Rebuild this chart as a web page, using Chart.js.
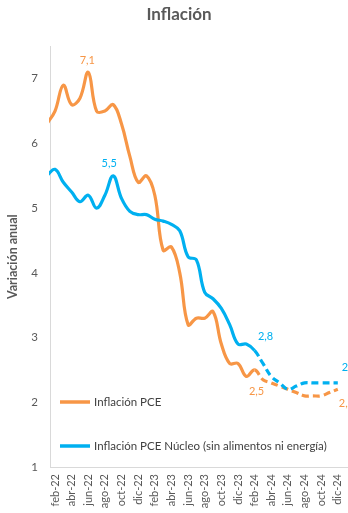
<!DOCTYPE html>
<html lang="es">
<head>
<meta charset="UTF-8">
<title>Inflación</title>
<script src="https://cdn.jsdelivr.net/npm/chart.js"></script>
<style>
  html, body { margin: 0; padding: 0; background: #fff; overflow: hidden; }
  #wrap { width: 358px; height: 513px; }
</style>
</head>
<body>
<div id="wrap"><canvas id="inflationChart" width="358" height="513"></canvas></div>
<script>
// datos mensuales (ene-22 .. dic-24), desde feb-24 es proyección
const months = ['ene-22','feb-22','mar-22','abr-22','may-22','jun-22','jul-22','ago-22','sep-22','oct-22','nov-22','dic-22',
                'ene-23','feb-23','mar-23','abr-23','may-23','jun-23','jul-23','ago-23','sep-23','oct-23','nov-23','dic-23',
                'ene-24','feb-24','mar-24','abr-24','may-24','jun-24','jul-24','ago-24','sep-24','oct-24','nov-24','dic-24'];
const pce     = [6.3, 6.5, 6.9, 6.6, 6.7, 7.1, 6.5, 6.5, 6.6, 6.3, 5.8, 5.4,
                 5.5, 5.2, 4.35, 4.4, 4.0, 3.2, 3.3, 3.3, 3.4, 2.9, 2.6, 2.6,
                 2.4, 2.5, 2.35, 2.3, 2.25, 2.2, 2.15, 2.1, 2.1, 2.1, 2.15, 2.2];
const pceCore = [5.5, 5.6, 5.4, 5.25, 5.1, 5.2, 5.0, 5.2, 5.5, 5.15, 4.95, 4.9,
                 4.9, 4.83, 4.8, 4.75, 4.65, 4.25, 4.2, 3.7, 3.6, 3.45, 3.2, 2.9,
                 2.9, 2.8, 2.6, 2.4, 2.3, 2.2, 2.25, 2.3, 2.3, 2.3, 2.3, 2.3];
const xTickLabels = ['feb-22','abr-22','jun-22','ago-22','oct-22','dic-22','feb-23','abr-23','jun-23',
                     'ago-23','oct-23','dic-23','feb-24','abr-24','jun-24','ago-24','oct-24','dic-24'];
const yTicks = [1, 2, 3, 4, 5, 6, 7];
const forecastFrom = months.indexOf('feb-24');

const ORANGE = '#F79646';
const BLUE = '#00B0F0';
const GREY = '#595959';
const FONT = 'Lato, "Noto Sans", sans-serif';

// etiquetas de valor junto a ciertos puntos
const valueLabels = [
    { ds: 0, month: 'jun-22', dx: -1, dy: -12, align: 'center' },
    { ds: 1, month: 'sep-22', dx: -4, dy: -12, align: 'center' },
    { ds: 1, month: 'feb-24', dx: 11, dy: -14, align: 'center' },
    { ds: 0, month: 'feb-24', dx: 2, dy: 22, align: 'center' },
    { ds: 1, month: 'dic-24', dx: 4, dy: -15, align: 'left' },
    { ds: 0, month: 'dic-24', dx: 1, dy: 14, align: 'left' }
];

const annotations = {
    id: 'annotations',
    afterDatasetsDraw(chart) {
        const ctx = chart.ctx;
        ctx.save();
        ctx.font = '11px ' + FONT;
        ctx.textBaseline = 'middle';
        valueLabels.forEach(l => {
            const ds = chart.data.datasets[l.ds];
            const idx = months.indexOf(l.month);
            const pt = chart.getDatasetMeta(l.ds).data[idx];
            ctx.fillStyle = ds.borderColor;
            ctx.textAlign = l.align;
            ctx.fillText(ds.data[idx].y.toFixed(1).replace('.', ','), pt.x + l.dx, pt.y + l.dy);
        });

        // leyenda dentro del área del gráfico
        const rows = [402, 446];
        ctx.font = '11.5px ' + FONT;
        ctx.textAlign = 'left';
        chart.data.datasets.forEach((ds, i) => {
            ctx.strokeStyle = ds.borderColor;
            ctx.lineWidth = 3.5;
            ctx.beginPath();
            ctx.moveTo(60, rows[i]);
            ctx.lineTo(90, rows[i]);
            ctx.stroke();
            ctx.fillStyle = '#404040';
            ctx.fillText(ds.label, 94, rows[i]);
        });
        ctx.restore();
    }
};

const dashed = c => c.p0DataIndex >= forecastFrom ? [7, 4] : undefined;

new Chart(document.getElementById('inflationChart'), {
    type: 'line',
    data: {
        datasets: [
            {
                label: 'Inflación PCE',
                data: pce.map((v, i) => ({ x: i, y: v })),
                borderColor: ORANGE,
                borderWidth: 3.2,
                pointRadius: 0,
                tension: 0.4,
                order: 1,
                clip: 1,
                segment: { borderDash: dashed }
            },
            {
                label: 'Inflación PCE Núcleo (sin alimentos ni energía)',
                data: pceCore.map((v, i) => ({ x: i, y: v })),
                borderColor: BLUE,
                borderWidth: 3.2,
                pointRadius: 0,
                tension: 0.4,
                order: 0,
                clip: 1,
                segment: { borderDash: dashed }
            }
        ]
    },
    options: {
        responsive: false,
        animation: false,
        layout: { padding: 0 },
        plugins: {
            legend: { display: false },
            tooltip: { enabled: false },
            title: {
                display: true,
                text: 'Inflación',
                color: GREY,
                font: { family: FONT, size: 17, weight: 'bold' },
                padding: { top: 4, bottom: 22 }
            }
        },
        scales: {
            x: {
                type: 'linear',
                min: 0.4,
                max: 37,
                afterBuildTicks: s => { s.ticks = xTickLabels.map(l => ({ value: months.indexOf(l) })); },
                afterFit: s => { s.height = 46; },
                grid: { display: false, drawTicks: false },
                border: { color: '#D9D9D9' },
                ticks: {
                    autoSkip: false,
                    minRotation: 90,
                    maxRotation: 90,
                    padding: 7,
                    color: GREY,
                    font: { family: FONT, size: 11 },
                    callback: v => months[v]
                }
            },
            y: {
                min: 1,
                max: 7.5,
                afterBuildTicks: s => { s.ticks = yTicks.map(v => ({ value: v })); },
                afterFit: s => { s.width = 50; },
                grid: { display: false, drawTicks: false },
                border: { color: '#D9D9D9' },
                ticks: {
                    padding: 12,
                    color: GREY,
                    font: { family: FONT, size: 11.5 }
                },
                title: {
                    display: true,
                    text: 'Variación anual',
                    color: GREY,
                    font: { family: FONT, size: 12.5, weight: 'bold' },
                    padding: { top: 5, bottom: 0 }
                }
            }
        }
    },
    plugins: [annotations]
});
</script>
</body>
</html>
